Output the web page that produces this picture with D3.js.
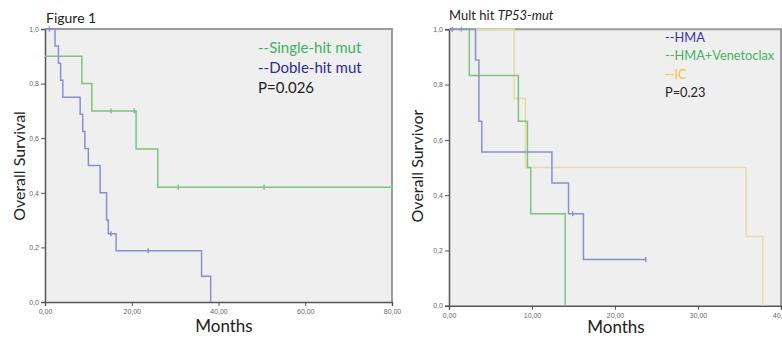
<!DOCTYPE html>
<html>
<head>
<meta charset="utf-8">
<script src="https://cdnjs.cloudflare.com/ajax/libs/d3/7.8.5/d3.min.js"></script>
<style>
  body { margin: 0; background: #fff; }
  svg { display: block; }
  .tick text { font-family: "Liberation Sans", sans-serif; font-size: 7px; fill: #666; }
</style>
</head>
<body>
<div id="chart"></div>
<script>
// left panel: single vs double hit
var singleTimes = [0, 8.5, 10.8, 21.0, 26.0, 80];
var singleSurv  = [0.9, 0.8, 0.7, 0.56, 0.42, 0.42];
var singleCensor = [[15.2, 0.7], [20.6, 0.7], [30.7, 0.42], [50.5, 0.42], [80, 0.42]];

var doubleTimes = [0, 2.3, 3.1, 3.6, 4.1, 8.1, 8.7, 9.2, 10.0, 12.7, 14.2, 14.6, 16.4, 36.1, 38.2];
var doubleSurv  = [1, 0.9375, 0.875, 0.8125, 0.75, 0.6875, 0.625, 0.5625, 0.5, 0.4, 0.3, 0.25, 0.1875, 0.094, 0];
var doubleCensor = [[1.0, 1.0], [15.2, 0.25], [23.8, 0.1875]];

// right panel: treatment groups
var hmaTimes = [0, 3.2, 3.6, 3.95, 12.4, 14.4, 16.2, 23.7];
var hmaSurv  = [1, 0.889, 0.667, 0.556, 0.444, 0.333, 0.167, 0.167];
var hmaCensor = [[0.4, 1.0], [14.9, 0.333], [23.7, 0.167]];

var venTimes = [0, 2.45, 8.36, 9.45, 9.85, 14.0];
var venSurv  = [1, 0.833, 0.667, 0.5, 0.333, 0];
var venCensor = [[1.5, 1.0]];

var icTimes = [0, 7.85, 9.2, 35.8, 37.8];
var icSurv  = [1, 0.75, 0.5, 0.25, 0];

var leftXTicks = [0, 20, 40, 60, 80];
var rightXTicks = [0, 10, 20, 30, 40];
var yTicks = [0, 0.2, 0.4, 0.6, 0.8, 1.0];

var comma = d3.formatLocale({ decimal: ",", thousands: ".", grouping: [3], currency: ["", ""] });

var svg = d3.select("#chart").append("svg")
  .attr("width", 782)
  .attr("height", 340);

function zip(ts, ss) {
  return ts.map(function (t, i) { return { t: t, s: ss[i] }; });
}

function panel(opt) {
  var x = d3.scaleLinear().domain(opt.xDomain).range([opt.left, opt.right]);
  var y = d3.scaleLinear().domain([0, 1]).range([opt.bottom, opt.top]);

  // plot background
  svg.append("rect")
    .attr("x", opt.left).attr("y", opt.top)
    .attr("width", opt.right - opt.left).attr("height", opt.bottom - opt.top)
    .attr("fill", "#efefef");

  // frame top and right
  svg.append("path")
    .attr("d", "M" + opt.left + "," + opt.top + "H" + opt.right + "V" + opt.bottom)
    .attr("fill", "none").attr("stroke", "#9a9a9a").attr("stroke-width", 2);

  svg.append("g")
    .attr("transform", "translate(0," + opt.bottom + ")")
    .call(d3.axisBottom(x).tickValues(opt.xTicks).tickSize(4).tickFormat(comma.format(".2f")))
    .call(function (g) {
      g.select(".domain").attr("stroke", "#555").attr("stroke-width", 1.5);
      g.selectAll(".tick line").attr("stroke", "#555");
    });

  svg.append("g")
    .attr("transform", "translate(" + opt.left + ",0)")
    .call(d3.axisLeft(y).tickValues(yTicks).tickSize(4).tickPadding(2).tickFormat(comma.format(".1f")))
    .call(function (g) {
      g.select(".domain").attr("stroke", "#555").attr("stroke-width", 1.5);
      g.selectAll(".tick line").attr("stroke", "#555");
    });

  var line = d3.line()
    .x(function (d) { return x(d.t); })
    .y(function (d) { return y(d.s); })
    .curve(d3.curveStepAfter);

  opt.series.forEach(function (s) {
    svg.append("path")
      .datum(zip(s.times, s.surv))
      .attr("d", line)
      .attr("fill", "none")
      .attr("stroke", s.color)
      .attr("stroke-width", 1.5);

    svg.selectAll(null)
      .data(s.censor || [])
      .enter().append("line")
      .attr("x1", function (d) { return x(d[0]); })
      .attr("x2", function (d) { return x(d[0]); })
      .attr("y1", function (d) { return y(d[1]) - 2.5; })
      .attr("y2", function (d) { return y(d[1]) + 2.5; })
      .attr("stroke", s.color)
      .attr("stroke-width", 1.5);
  });

  // axis titles
  svg.append("text")
    .attr("transform", "translate(" + opt.yTitleX + "," + opt.yTitleY + ") rotate(-90)")
    .attr("text-anchor", "middle")
    .attr("dy", "0.35em")
    .style("font-family", "Lato, sans-serif")
    .style("font-size", "16px")
    .attr("fill", "#222")
    .text(opt.yTitle);

  svg.append("text")
    .attr("x", opt.xTitleX).attr("y", opt.xTitleY)
    .attr("text-anchor", "middle")
    .attr("dy", "0.35em")
    .style("font-family", "Lato, sans-serif")
    .style("font-size", "17px")
    .attr("fill", "#222")
    .text("Months");

  // legend
  opt.legend.forEach(function (l) {
    svg.append("text")
      .attr("x", opt.legendX).attr("y", l.y)
      .attr("dy", "0.35em")
      .style("font-family", "Lato, sans-serif")
      .style("font-size", opt.legendSize)
      .attr("fill", l.color)
      .text(l.label);
  });
}

panel({
  left: 45, right: 392, top: 29, bottom: 302,
  xDomain: [0, 80], xTicks: leftXTicks,
  yTitle: "Overall Survival", yTitleX: 19, yTitleY: 166,
  xTitleX: 224, xTitleY: 326,
  legendX: 258, legendSize: "15px",
  legend: [
    { label: "--Single-hit mut", color: "#3fb15f", y: 48 },
    { label: "--Doble-hit mut", color: "#2c2c92", y: 68 },
    { label: "P=0.026", color: "#222", y: 88 }
  ],
  series: [
    { times: singleTimes, surv: singleSurv, censor: singleCensor, color: "#7cc47f" },
    { times: doubleTimes, surv: doubleSurv, censor: doubleCensor, color: "#8a8fd0" }
  ]
});

panel({
  left: 449, right: 781, top: 29.3, bottom: 305.7,
  xDomain: [0, 40], xTicks: rightXTicks,
  yTitle: "Overall Survivor", yTitleX: 417, yTitleY: 166,
  xTitleX: 616, xTitleY: 327,
  legendX: 665, legendSize: "12.8px",
  legend: [
    { label: "--HMA", color: "#3434a0", y: 38 },
    { label: "--HMA+Venetoclax", color: "#44b25e", y: 56 },
    { label: "--IC", color: "#f0c22e", y: 75 },
    { label: "P=0.23", color: "#222", y: 93 }
  ],
  series: [
    { times: icTimes, surv: icSurv, color: "#e8dca6" },
    { times: venTimes, surv: venSurv, censor: venCensor, color: "#7cc47f" },
    { times: hmaTimes, surv: hmaSurv, censor: hmaCensor, color: "#8a8fd0" }
  ]
});

// titles
svg.append("text")
  .attr("x", 46).attr("y", 18)
  .attr("dy", "0.35em")
  .style("font-family", "Lato, sans-serif")
  .style("font-size", "14px")
  .attr("fill", "#222")
  .text("Figure 1");

var t2 = svg.append("text")
  .attr("x", 449).attr("y", 15)
  .attr("dy", "0.35em")
  .style("font-family", "Lato, sans-serif")
  .style("font-size", "13px")
  .attr("fill", "#222");
t2.append("tspan").text("Mult hit ");
t2.append("tspan").style("font-style", "italic").text("TP53-mut");
</script>
</body>
</html>
